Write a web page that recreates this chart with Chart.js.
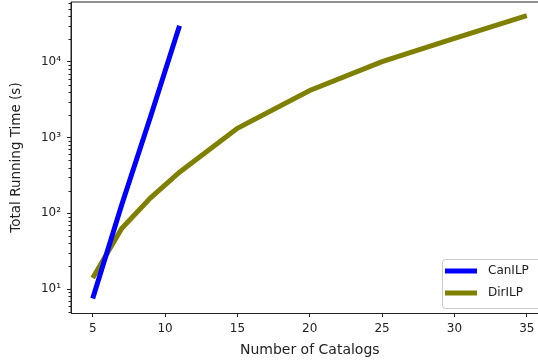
<!DOCTYPE html>
<html>
<head>
<meta charset="utf-8">
<script src="https://cdn.jsdelivr.net/npm/chart.js@4.4.1/dist/chart.umd.min.js"></script>
<style>
  html, body { margin: 0; padding: 0; background: #fff; overflow: hidden; }
  #wrap { width: 550px; height: 362px; position: relative; }
</style>
</head>
<body>
<div id="wrap"><canvas id="chart"></canvas></div>
<script>
// Данные
const canCatalogs = [5, 7, 9, 11];
const canTimes = [7.5, 129, 1900, 30000];
const dirCatalogs = [5, 7, 9, 11, 15, 20, 25, 30, 35];
const dirTimes = [14, 63, 160, 350, 1330, 4200, 10100, 20500, 41000];
const xTicks = [5, 10, 15, 20, 25, 30, 35];
const yTicks = [10, 100, 1000, 10000];
const seriesNames = ['CanILP', 'DirILP'];

const FONT = 'DejaVu Sans';
const sup = { '1': '\u00b9', '2': '\u00b2', '3': '\u00b3', '4': '\u2074' };

// Рамка, минорные деления и легенда
const extras = {
  id: 'extras',
  afterDraw(chart) {
    const { ctx, chartArea: a } = chart;
    const y = chart.scales.y;
    ctx.save();
    ctx.strokeStyle = '#222';
    ctx.lineWidth = 1;
    ctx.beginPath();
    ctx.moveTo(a.left, a.bottom);
    ctx.lineTo(a.left, a.top);
    ctx.lineTo(a.right, a.top);
    ctx.stroke();

    // минорные деления
    for (let d = 0; d <= 4; d++) {
      for (let m = 2; m <= 9; m++) {
        const v = m * Math.pow(10, d);
        if (v < y.min || v > y.max) continue;
        const py = Math.round(y.getPixelForValue(v)) + 0.5;
        ctx.beginPath();
        ctx.moveTo(a.left - 2.5, py);
        ctx.lineTo(a.left, py);
        ctx.stroke();
      }
    }

    // легенда
    const bx = 442, by = 259, bw = 110, bh = 49;
    ctx.fillStyle = 'rgba(255,255,255,0.8)';
    ctx.strokeStyle = '#ccc';
    ctx.beginPath();
    ctx.roundRect(bx + 0.5, by + 0.5, bw, bh, 3);
    ctx.fill();
    ctx.stroke();
    ctx.font = '12px ' + FONT;
    ctx.textBaseline = 'middle';
    chart.data.datasets.forEach((ds, i) => {
      const ly = by + 12 + i * 22;
      ctx.strokeStyle = ds.borderColor;
      ctx.lineWidth = 5;
      ctx.beginPath();
      ctx.moveTo(bx + 3, ly);
      ctx.lineTo(bx + 35, ly);
      ctx.stroke();
      ctx.fillStyle = '#222';
      ctx.fillText(ds.label, bx + 46, ly);
    });
    ctx.restore();
  }
};

new Chart(document.getElementById('chart'), {
  type: 'line',
  data: {
    datasets: [
      {
        label: seriesNames[0],
        data: canCatalogs.map((c, i) => ({ x: c, y: canTimes[i] })),
        borderColor: '#0000ff',
        borderWidth: 5,
        pointRadius: 0,
        borderCapStyle: 'butt'
      },
      {
        label: seriesNames[1],
        data: dirCatalogs.map((c, i) => ({ x: c, y: dirTimes[i] })),
        borderColor: '#808000',
        borderWidth: 5,
        pointRadius: 0,
        borderCapStyle: 'butt'
      }
    ]
  },
  options: {
    responsive: true,
    maintainAspectRatio: false,
    animation: false,
    events: [],
    layout: { padding: { top: 2, right: 1.5, left: 0, bottom: 0 } },
    plugins: { legend: { display: false }, tooltip: { enabled: false } },
    scales: {
      x: {
        type: 'linear',
        min: 3.5,
        max: 36.5,
        afterBuildTicks: s => { s.ticks = xTicks.map(v => ({ value: v })); },
        afterFit: s => { s.height = 49; s.paddingLeft = 0; s.paddingRight = 0; },
        grid: { drawOnChartArea: false, drawTicks: true, tickLength: 4, tickColor: '#222' },
        border: { color: '#222', width: 1 },
        ticks: { color: '#222', font: { family: FONT, size: 12 }, padding: 5, maxRotation: 0 },
        title: {
          display: true, text: 'Number of Catalogs', color: '#222',
          font: { family: FONT, size: 14 }, padding: { top: 0, bottom: 2.9 }
        }
      },
      y: {
        type: 'logarithmic',
        min: 4.82,
        max: 62000,
        afterBuildTicks: s => { s.ticks = yTicks.map(v => ({ value: v, major: true })); },
        afterFit: s => { s.width = 71; s.paddingTop = 0; s.paddingBottom = 0; },
        grid: { drawOnChartArea: false, drawTicks: true, tickLength: 4, tickColor: '#222' },
        border: { color: '#222', width: 1 },
        ticks: {
          color: '#222', font: { family: FONT, size: 12 }, padding: 6,
          callback: v => '10' + sup[String(Math.round(Math.log10(v)))]
        },
        title: {
          display: true, text: 'Total Running Time (s)', color: '#222',
          font: { family: FONT, size: 13.5 }, padding: { top: 7.9, bottom: 0 }
        }
      }
    }
  },
  plugins: [extras]
});
</script>
</body>
</html>
